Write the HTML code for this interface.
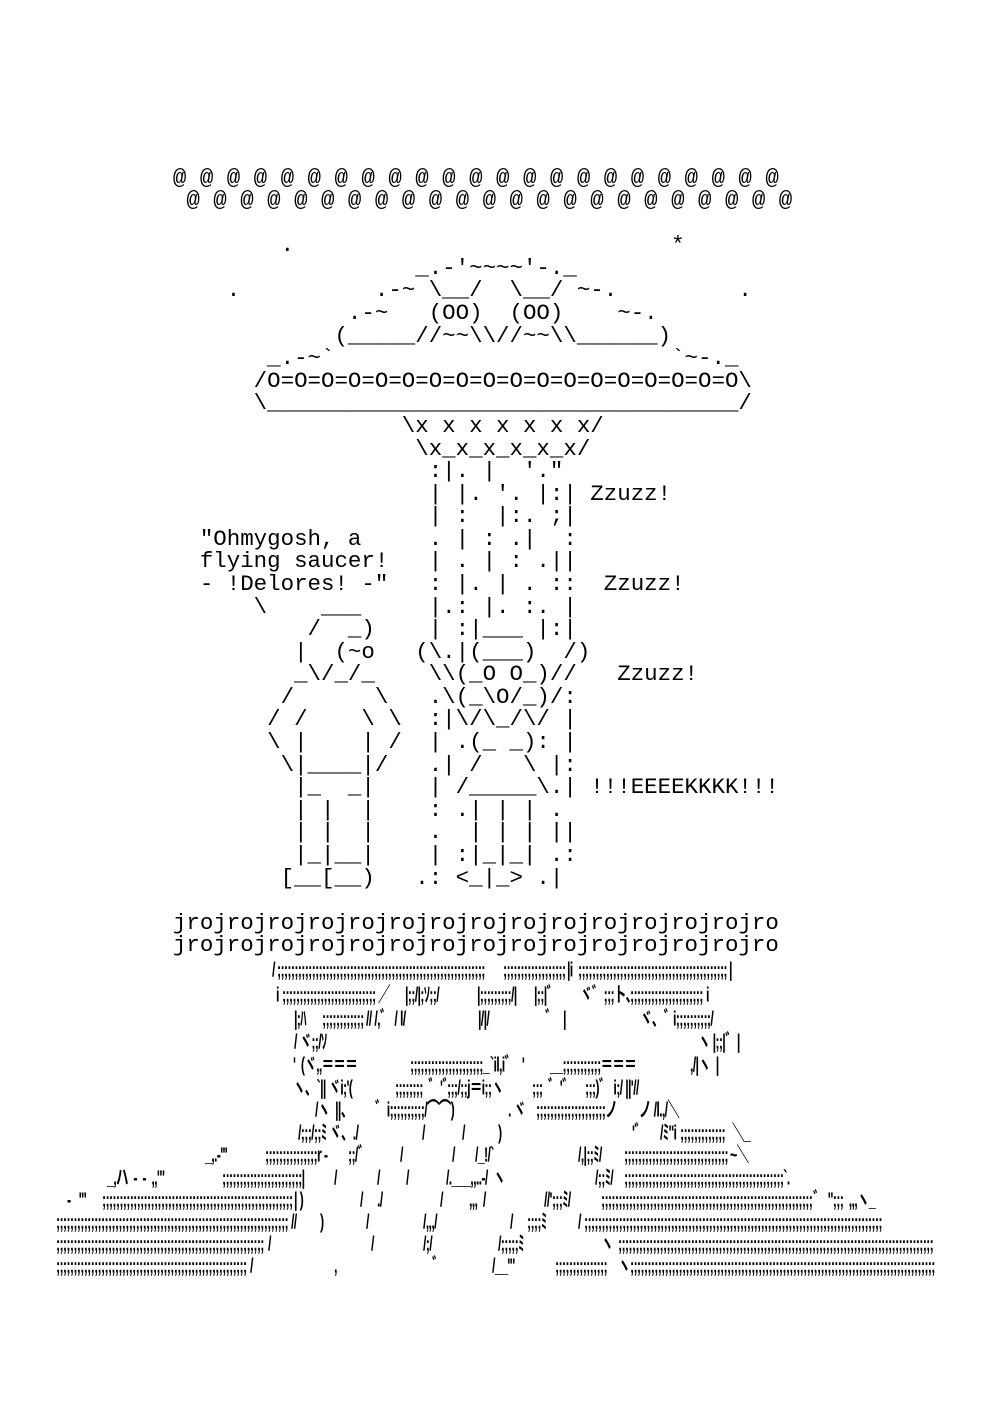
<!DOCTYPE html>
<html><head><meta charset="utf-8"><style>
html,body{margin:0;padding:0;background:#fff;}
body{width:1000px;height:1413px;position:relative;overflow:hidden;color:#000;}
pre.m{position:absolute;left:172.9px;top:166.6px;margin:0;font-family:"Liberation Mono",monospace;font-size:22.45px;line-height:22.58px;white-space:pre;}
.a{position:absolute;margin:0;font-family:"Liberation Sans","Noto Sans CJK JP",sans-serif;font-size:12.5px;font-weight:bold;letter-spacing:-0.7px;line-height:22px;white-space:pre;transform:scaleY(1.65);transform-origin:left center;}
</style></head><body>
<pre class="m">@ @ @ @ @ @ @ @ @ @ @ @ @ @ @ @ @ @ @ @ @ @ @
 @ @ @ @ @ @ @ @ @ @ @ @ @ @ @ @ @ @ @ @ @ @ @

        .                            *
                  _.-'~~~~'-._
    .          .-~ \__/  \__/ ~-.         .
             .-~   (OO)  (OO)    ~-.
            (_____//~~\\//~~\\______)
       _.-~`                         `~-._
      /O=O=O=O=O=O=O=O=O=O=O=O=O=O=O=O=O=O\
      \___________________________________/
                 \x x x x x x x/
                  \x_x_x_x_x_x/
                   :|. |  '."
                   | |. '. |:| Zzuzz!
                   | :  |:. ;|
  "Ohmygosh, a     . | : .|  :
  flying saucer!   | . | : .||
  - !Delores! -"   : |. | . ::  Zzuzz!
      \    ___     |.: |. :. |
          /  _)    | :|___ |:|
         |  (~o   (\.|(___)  /)
         _\/_/_    \\(_O O_)//   Zzuzz!
        /      \   .\(_\O/_)/:
       / /    \ \  :|\/\_/\/ |
       \ |    | /  | .(_ _): |
        \|____|/   .| /   \ |:
         |_  _|    | /_____\.| !!!EEEEKKKK!!!
         | |  |    : .| | | .
         | |  |    .  | | | ||
         |_|__|    | :|_|_| .:
        [__[__)   .: &lt;_|_&gt; .|

jrojrojrojrojrojrojrojrojrojrojrojrojrojrojro
jrojrojrojrojrojrojrojrojrojrojrojrojrojrojro</pre>

<div class="a" style="left:272px;top:959px">/</div>
<div class="a" style="left:277px;top:959px">;;;;;;;;;;;;;;;;;;;;;;;;;;;;;;;;;;;;;;;;;;;;;;;;;;;;;;;;;;;;</div>
<div class="a" style="left:503px;top:959px">;;;;;;;;;;;;;;;;;;</div>
<div class="a" style="left:567px;top:959px">|i</div>
<div class="a" style="left:578px;top:959px">;;;;;;;;;;;;;;;;;;;;;;;;;;;;;;;;;;;;;;;;;;;</div>
<div class="a" style="left:729px;top:959px">|</div>
<div class="a" style="left:276px;top:984px">i</div>
<div class="a" style="left:282px;top:984px">;;;;;;;;;;;;;;;;;;;;;;;;;;;</div>
<div class="a" style="left:378px;top:984px">／</div>
<div class="a" style="left:405px;top:984px">|;;/|;ｿ;;/</div>
<div class="a" style="left:477px;top:984px">|;;;;;;;;;/|</div>
<div class="a" style="left:534px;top:984px">|;;|゛</div>
<div class="a" style="left:580px;top:984px">ヾ゛;;;ト、</div>
<div class="a" style="left:630px;top:984px">;;;;;;;;;;;;;;;;;;;;;</div>
<div class="a" style="left:706px;top:984px">i</div>
<div class="a" style="left:294px;top:1008px">|;ﾊ</div>
<div class="a" style="left:322px;top:1008px">;;;;;;;;;;;;</div>
<div class="a" style="left:366px;top:1008px">// /,゛ / l/</div>
<div class="a" style="left:478px;top:1008px">|/|/</div>
<div class="a" style="left:545px;top:1008px">゛</div>
<div class="a" style="left:563px;top:1008px">|</div>
<div class="a" style="left:640px;top:1008px">ヾ、゛</div>
<div class="a" style="left:673px;top:1008px">i;;;;;;;;;;/</div>
<div class="a" style="left:294px;top:1031px">/ ヾ;;/ｿ</div>
<div class="a" style="left:698px;top:1031px">ヽ |;;|゛|</div>
<div class="a" style="left:293px;top:1054px">'  (ヾ,,＝＝＝</div>
<div class="a" style="left:410px;top:1054px">;;;;;;;;;;;;;;;;;;;;;_</div>
<div class="a" style="left:490px;top:1054px">`il,i゛  '</div>
<div class="a" style="left:550px;top:1054px">__;;;;;;;;;;;＝＝＝</div>
<div class="a" style="left:690px;top:1054px">,/|ヽ  |</div>
<div class="a" style="left:293px;top:1077px">ヽ、`|| ヾi;'(</div>
<div class="a" style="left:395px;top:1077px">;;;;;;;;  ゛'゛</div>
<div class="a" style="left:447px;top:1077px">;;;/;;j＝i;;ヽ</div>
<div class="a" style="left:532px;top:1077px">;;;  ゛'゛</div>
<div class="a" style="left:585px;top:1077px">;;;)゛ i;/ ||'//</div>
<div class="a" style="left:315px;top:1099px">/ヽ  ||、</div>
<div class="a" style="left:375px;top:1099px">゛i;;;;;;;;;;/⌒⌒)</div>
<div class="a" style="left:508px;top:1099px">. ヾ</div>
<div class="a" style="left:536px;top:1099px">;;;;;;;;;;;;;;;;;;;;ノ</div>
<div class="a" style="left:639px;top:1099px">ノ /l.,/＼</div>
<div class="a" style="left:298px;top:1122px">/;;;/;;ﾐ ヾ、./</div>
<div class="a" style="left:422px;top:1122px">/</div>
<div class="a" style="left:462px;top:1122px">/</div>
<div class="a" style="left:498px;top:1122px">)</div>
<div class="a" style="left:632px;top:1122px">'゛</div>
<div class="a" style="left:660px;top:1122px">/ﾐ"i</div>
<div class="a" style="left:680px;top:1122px">;;;;;;;;;;;;;</div>
<div class="a" style="left:732px;top:1122px">＼_</div>
<div class="a" style="left:205px;top:1144px">_,.-'''</div>
<div class="a" style="left:265px;top:1144px">;;;;;;;;;;;;;;;r -</div>
<div class="a" style="left:348px;top:1144px">;;/゛</div>
<div class="a" style="left:400px;top:1144px">/</div>
<div class="a" style="left:452px;top:1144px">/</div>
<div class="a" style="left:475px;top:1144px">/_!/`</div>
<div class="a" style="left:578px;top:1144px">/,|;;ﾐ/</div>
<div class="a" style="left:624px;top:1144px">;;;;;;;;;;;;;;;;;;;;;;;;;;;;;;</div>
<div class="a" style="left:730px;top:1144px">~＼</div>
<div class="a" style="left:107px;top:1167px">_,ハ  -  -  ,,'"</div>
<div class="a" style="left:222px;top:1167px">;;;;;;;;;;;;;;;;;;;;;;;|</div>
<div class="a" style="left:334px;top:1167px">/</div>
<div class="a" style="left:377px;top:1167px">/</div>
<div class="a" style="left:406px;top:1167px">/</div>
<div class="a" style="left:446px;top:1167px">/.___,,..-/  ヽ</div>
<div class="a" style="left:595px;top:1167px">/;;ﾐ/</div>
<div class="a" style="left:624px;top:1167px">;;;;;;;;;;;;;;;;;;;;;;;;;;;;;;;;;;;;;;;;;;;;;;`.</div>
<div class="a" style="left:67px;top:1189px">-   '"</div>
<div class="a" style="left:102px;top:1189px">;;;;;;;;;;;;;;;;;;;;;;;;;;;;;;;;;;;;;;;;;;;;;;;;;;;;;;;</div>
<div class="a" style="left:294px;top:1189px">| )</div>
<div class="a" style="left:360px;top:1189px">/</div>
<div class="a" style="left:377px;top:1189px">./</div>
<div class="a" style="left:440px;top:1189px">/</div>
<div class="a" style="left:469px;top:1189px">,,,  /</div>
<div class="a" style="left:544px;top:1189px">//';;;ﾐ/</div>
<div class="a" style="left:601px;top:1189px">;;;;;;;;;;;;;;;;;;;;;;;;;;;;;;;;;;;;;;;;;;;;;;;;;;;;;;;;;;;;;</div>
<div class="a" style="left:813px;top:1189px">゛ ";;;  ,,,ヽ_</div>
<div class="a" style="left:56px;top:1211px">;;;;;;;;;;;;;;;;;;;;;;;;;;;;;;;;;;;;;;;;;;;;;;;;;;;;;;;;;;;;;;;;;;;</div>
<div class="a" style="left:291px;top:1211px">//</div>
<div class="a" style="left:320px;top:1211px">)</div>
<div class="a" style="left:366px;top:1211px">/</div>
<div class="a" style="left:423px;top:1211px">/,,,/</div>
<div class="a" style="left:510px;top:1211px">/</div>
<div class="a" style="left:527px;top:1211px">;;;;ﾐ</div>
<div class="a" style="left:578px;top:1211px">/</div>
<div class="a" style="left:584px;top:1211px">;;;;;;;;;;;;;;;;;;;;;;;;;;;;;;;;;;;;;;;;;;;;;;;;;;;;;;;;;;;;;;;;;;;;;;;;;;;;;;;;;;;;;;</div>
<div class="a" style="left:56px;top:1233px">;;;;;;;;;;;;;;;;;;;;;;;;;;;;;;;;;;;;;;;;;;;;;;;;;;;;;;;;;;;;</div>
<div class="a" style="left:268px;top:1233px">/</div>
<div class="a" style="left:371px;top:1233px">/</div>
<div class="a" style="left:423px;top:1233px">/;/</div>
<div class="a" style="left:498px;top:1233px">/;;;;;ﾐ</div>
<div class="a" style="left:601px;top:1233px">ヽ</div>
<div class="a" style="left:618px;top:1233px">;;;;;;;;;;;;;;;;;;;;;;;;;;;;;;;;;;;;;;;;;;;;;;;;;;;;;;;;;;;;;;;;;;;;;;;;;;;;;;;;;;;;;;;;;;;</div>
<div class="a" style="left:56px;top:1255px">;;;;;;;;;;;;;;;;;;;;;;;;;;;;;;;;;;;;;;;;;;;;;;;;;;;;;;;</div>
<div class="a" style="left:250px;top:1255px">/</div>
<div class="a" style="left:334px;top:1255px">,</div>
<div class="a" style="left:432px;top:1255px">゛</div>
<div class="a" style="left:492px;top:1255px">/__'"</div>
<div class="a" style="left:555px;top:1255px">;;;;;;;;;;;;;;;</div>
<div class="a" style="left:618px;top:1255px">ヽ</div>
<div class="a" style="left:630px;top:1255px">;;;;;;;;;;;;;;;;;;;;;;;;;;;;;;;;;;;;;;;;;;;;;;;;;;;;;;;;;;;;;;;;;;;;;;;;;;;;;;;;;;;;;;;;</div>
</body></html>
